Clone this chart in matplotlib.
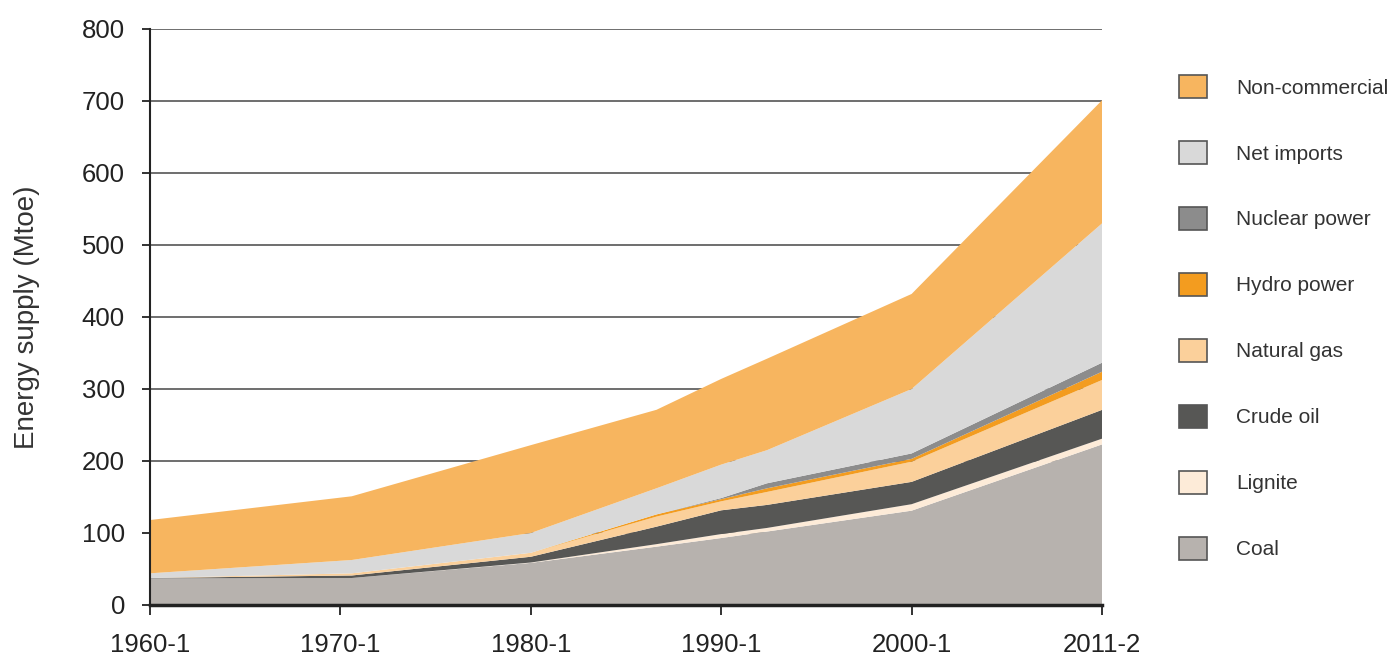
import matplotlib.pyplot as plt
from matplotlib.patches import Patch

plt.rcParams['font.family'] = ['Liberation Sans', 'DejaVu Sans']

# x positions in units of the tick spacing (0 = 1960-1 ... 5 = 2011-2)
periods = [0, 1.06, 2, 2.66, 3, 3.24, 4, 5]
tick_labels = ['1960-1', '1970-1', '1980-1', '1990-1', '2000-1', '2011-2']

coal = [37, 37.5, 58.5, 81, 93, 102, 131, 223]
lignite = [0, 0, 0.5, 3.5, 5.5, 5, 9, 8]
crude_oil = [0.5, 3.5, 8, 24.3, 33, 32, 31, 40]
natural_gas = [0, 3, 5.5, 14, 12.5, 18, 28, 41.5]
hydro = [0, 0, 0, 3, 3, 5, 4, 11.5]
nuclear = [0, 0, 0, 0, 1.5, 7, 7.5, 12.5]
net_imports = [6.5, 18.5, 27.5, 36.3, 46.5, 46, 89.5, 193.5]
non_commercial = [74, 88.5, 122, 109, 119, 127, 132, 171]

names = ['Coal', 'Lignite', 'Crude oil', 'Natural gas', 'Hydro power',
         'Nuclear power', 'Net imports', 'Non-commercial']
colors = ['#b7b2ae', '#fdebd8', '#575755', '#fbd09b', '#f39c1f',
          '#8c8c8c', '#d9d9d9', '#f7b55f']

fig = plt.figure(figsize=(13.93, 6.57), dpi=100)
ax = fig.add_axes([150 / 1393, 1 - 605 / 657, 952 / 1393, 576 / 657])

ax.stackplot(periods, coal, lignite, crude_oil, natural_gas, hydro, nuclear,
             net_imports, non_commercial, colors=colors, linewidth=0, zorder=2)

ax.set_xlim(0, 5)
ax.set_ylim(0, 800)
ax.set_yticks(range(0, 801, 100))
ax.set_xticks(range(6))
ax.set_xticklabels(tick_labels)
ax.yaxis.grid(True, color='#555555', linewidth=1.2, zorder=1)
ax.set_axisbelow(True)

for side in ['top', 'right']:
    ax.spines[side].set_visible(False)
ax.spines['left'].set_color('#222222')
ax.spines['left'].set_linewidth(1.5)
ax.spines['bottom'].set_color('#222222')
ax.spines['bottom'].set_linewidth(2.5)
ax.spines['bottom'].set_zorder(5)

ax.tick_params(axis='both', labelsize=18.5, colors='#222222', labelcolor='#222222',
               width=1.3)
ax.tick_params(axis='x', length=7.5, pad=13)
ax.tick_params(axis='y', length=6, pad=12)

ax.set_ylabel('Energy supply (Mtoe)', fontsize=20, color='#333333', labelpad=30)

handles = [Patch(facecolor=c, edgecolor='#555555', linewidth=1.2, label=n)
           for c, n in zip(colors, names)]
fig.legend(handles=handles[::-1], loc='upper left',
           bbox_to_anchor=(1179 / 1393, 1 - 75 / 657), frameon=False,
           fontsize=15, handlelength=1.34, handleheight=1.34,
           handletextpad=1.4, labelspacing=2.05, borderpad=0,
           borderaxespad=0, labelcolor='#333333')

fig.savefig('out.png', dpi=100)
